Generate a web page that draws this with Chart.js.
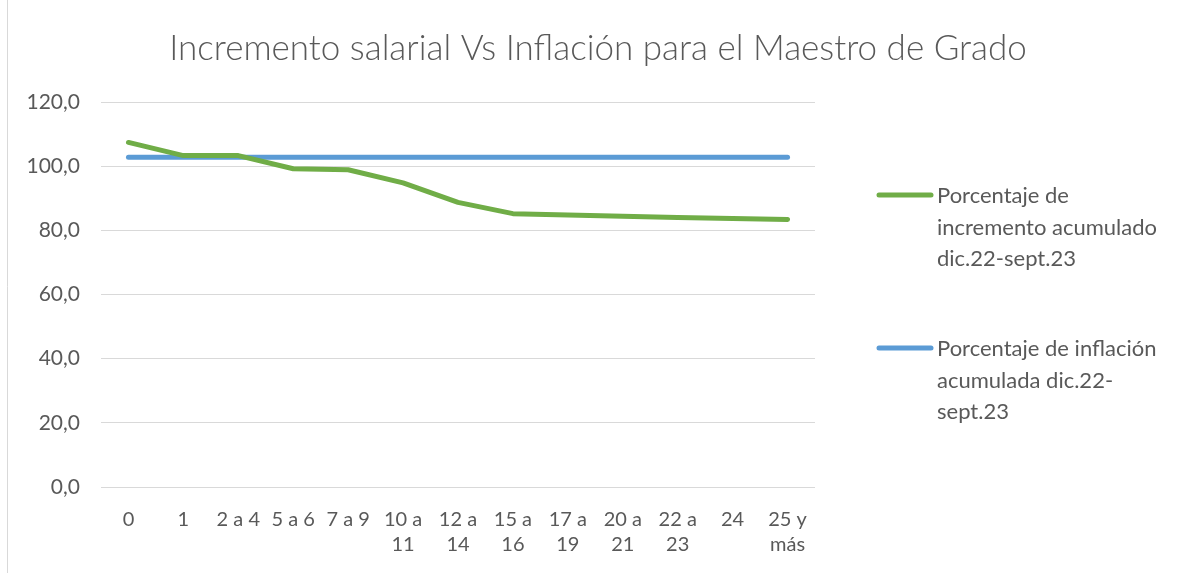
<!DOCTYPE html>
<html>
<head>
<meta charset="utf-8">
<script src="https://cdn.jsdelivr.net/npm/chart.js@4/dist/chart.umd.min.js"></script>
<style>
  body { margin: 0; background: #fff; }
  #wrap { width: 1185px; height: 573px; position: relative; }
</style>
</head>
<body>
<div id="wrap"><canvas id="line-chart" width="1185" height="573"></canvas></div>
<script>
        var ctx = document.getElementById('line-chart').getContext('2d');

        // Años de servicio (tick labels, wrapped like the original)
        var categories = [
            '0', '1', '2 a 4', '5 a 6', '7 a 9',
            ['10 a', '11'], ['12 a', '14'], ['15 a', '16'], ['17 a', '19'],
            ['20 a', '21'], ['22 a', '23'], '24', ['25 y', 'más']
        ];

        var incrementoValues = [107.4, 103.3, 103.3, 99.2, 98.9, 94.8, 88.7, 85.2, 84.8, 84.4, 84.0, 83.7, 83.4];
        var inflacionValues = [102.8, 102.8, 102.8, 102.8, 102.8, 102.8, 102.8, 102.8, 102.8, 102.8, 102.8, 102.8, 102.8];

        var seriesNames = [
            'Porcentaje de incremento acumulado dic.22-sept.23',
            'Porcentaje de inflación acumulada dic.22-sept.23'
        ];
        // how the legend text wraps in the original
        var legendLines = [
            ['Porcentaje de', 'incremento acumulado', 'dic.22-sept.23'],
            ['Porcentaje de inflación', 'acumulada dic.22-', 'sept.23']
        ];

        var chartTitle = 'Incremento salarial Vs Inflación para el Maestro de Grado';
        var yTicks = [0, 20, 40, 60, 80, 100, 120];

        var textColor = '#595959';
        var fontFamily = 'Lato, "Noto Sans", sans-serif';

        // title, frame line and legend drawn by hand
        var extras = {
            id: 'extras',
            beforeDraw: function (chart) {
                var c = chart.ctx;
                c.save();
                c.fillStyle = '#ffffff';
                c.fillRect(0, 0, chart.width, chart.height);
                c.strokeStyle = '#d9d9d9';
                c.lineWidth = 1;
                c.beginPath();
                c.moveTo(7.5, 0);
                c.lineTo(7.5, chart.height);
                c.stroke();
                c.restore();
            },
            afterDraw: function (chart) {
                var c = chart.ctx;
                c.save();
                c.fillStyle = textColor;
                c.textAlign = 'center';
                c.textBaseline = 'middle';
                c.font = '300 35px ' + fontFamily;
                c.fillText(chartTitle, 598, 49);

                var tops = [195, 348];
                chart.data.datasets.forEach(function (ds, i) {
                    var y = tops[i];
                    c.strokeStyle = ds.borderColor;
                    c.lineWidth = 5;
                    c.lineCap = 'round';
                    c.beginPath();
                    c.moveTo(879, y);
                    c.lineTo(931, y);
                    c.stroke();
                    c.fillStyle = textColor;
                    c.textAlign = 'left';
                    c.font = '22px ' + fontFamily;
                    legendLines[i].forEach(function (line, j) {
                        c.fillText(line, 937, y + 1 + j * 31.5);
                    });
                });
                c.restore();
            }
        };

        var config = {
            type: 'line',
            data: {
                labels: categories,
                datasets: [{
                    label: seriesNames[0],
                    data: incrementoValues,
                    borderColor: '#70ad47',
                    backgroundColor: '#70ad47',
                    borderWidth: 5,
                    borderCapStyle: 'round',
                    borderJoinStyle: 'round',
                    pointRadius: 0,
                    tension: 0
                }, {
                    label: seriesNames[1],
                    data: inflacionValues,
                    borderColor: '#5b9bd5',
                    backgroundColor: '#5b9bd5',
                    borderWidth: 5,
                    borderCapStyle: 'round',
                    borderJoinStyle: 'round',
                    pointRadius: 0,
                    tension: 0
                }]
            },
            options: {
                responsive: false,
                animation: false,
                layout: { padding: { top: 102, right: 370, left: 0, bottom: 0 } },
                plugins: {
                    legend: { display: false },
                    title: { display: false },
                    tooltip: { enabled: false }
                },
                scales: {
                    x: {
                        offset: true,
                        grid: { display: false, drawTicks: false },
                        border: { display: false },
                        ticks: {
                            color: textColor,
                            font: { family: fontFamily, size: 20, lineHeight: 1.25 },
                            padding: 20,
                            maxRotation: 0,
                            autoSkip: false
                        },
                        afterFit: function (scale) { scale.height = 86; }
                    },
                    y: {
                        min: 0,
                        max: 120,
                        afterBuildTicks: function (scale) {
                            scale.ticks = yTicks.map(function (v) { return { value: v }; });
                        },
                        grid: { color: '#d9d9d9', lineWidth: 1, drawTicks: false },
                        border: { display: false },
                        ticks: {
                            color: textColor,
                            font: { family: fontFamily, size: 21 },
                            padding: 21,
                            callback: function (v) { return v.toFixed(1).replace('.', ','); }
                        },
                        afterFit: function (scale) { scale.width = 101; }
                    }
                }
            },
            plugins: [extras]
        };
        new Chart(ctx, config);
</script>
</body>
</html>
